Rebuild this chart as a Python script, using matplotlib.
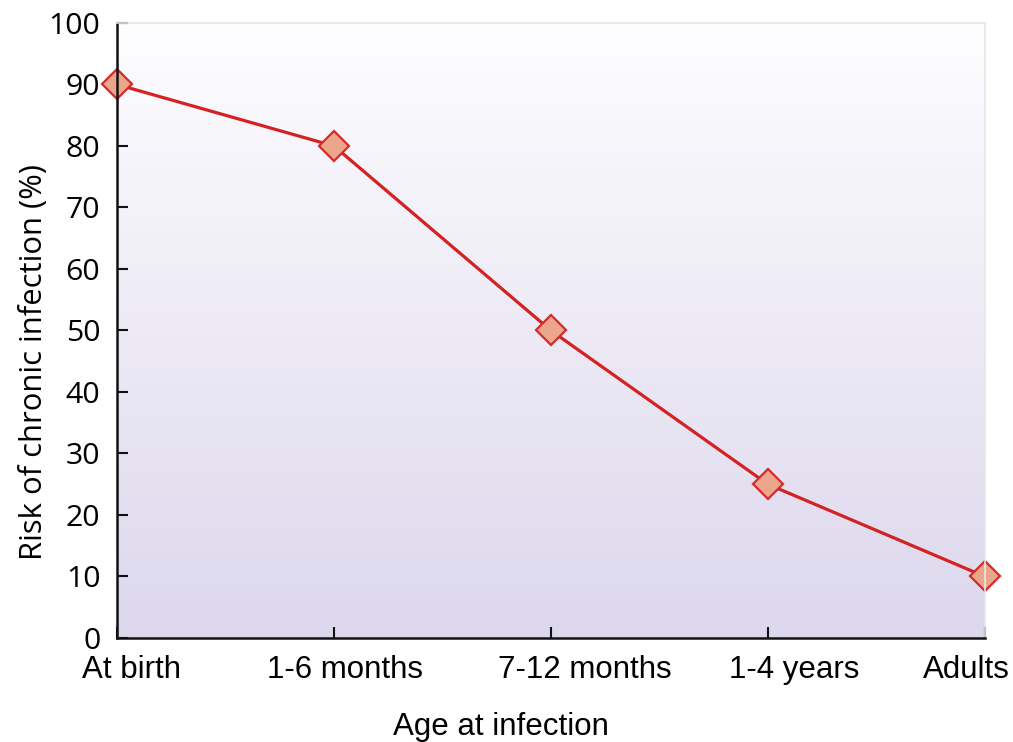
import numpy as np
import matplotlib
matplotlib.use("Agg")
import matplotlib.pyplot as plt
from matplotlib.colors import LinearSegmentedColormap
from matplotlib.transforms import ScaledTranslation

# Risk of chronic infection by age at infection
age_groups = ["At birth", "1-6 months", "7-12 months", "1-4 years", "Adults"]
risk_pct = [90, 80, 50, 25, 10]
y_ticks = [0, 10, 20, 30, 40, 50, 60, 70, 80, 90, 100]

# horizontal nudges (pixels) applied to the category labels
label_shift_px = [14, 11, 34, 26, -18]

fig = plt.figure(figsize=(10.13, 7.42), dpi=100)
ax = fig.add_axes([0.1155, 0.1402, 0.8566, 0.8288])

x = np.arange(len(age_groups))
ax.set_xlim(0, len(age_groups) - 1)
ax.set_ylim(0, 100)

# vertical gradient fill for the plotting area
grad = LinearSegmentedColormap.from_list("bg", ["#dcd7ec", "#fefdff"])
ax.imshow(np.linspace(0, 1, 256).reshape(-1, 1), cmap=grad, aspect="auto",
          extent=[0, len(age_groups) - 1, 0, 100], origin="lower", zorder=0)

ax.plot(x, risk_pct, color="#d42222", lw=2.3, zorder=2,
        marker="D", ms=15, mfc="#eca68b", mec="#d42a2a", mew=1.6,
        clip_on=False)

for side in ("top", "right"):
    ax.spines[side].set_color("#e6e6e6")
    ax.spines[side].set_linewidth(1.2)
for side in ("left", "bottom"):
    ax.spines[side].set_color("#111111")
    ax.spines[side].set_linewidth(1.8)

ax.set_xticks(x)
ax.set_xticklabels(age_groups, fontfamily="Liberation Sans", fontsize=22.5)
ax.set_yticks(y_ticks)
ax.set_yticklabels([str(v) for v in y_ticks], fontfamily="Open Sans", fontsize=21.8)
ax.tick_params(axis="both", direction="in", length=8, width=1.5, color="#111111")
ax.tick_params(axis="x", pad=12)
ax.tick_params(axis="y", pad=12)

for lbl, dx in zip(ax.get_xticklabels(), label_shift_px):
    lbl.set_transform(lbl.get_transform()
                      + ScaledTranslation(dx / 100, 0, fig.dpi_scale_trans))

ax.set_xlabel("Age at infection", fontfamily="Liberation Sans", fontsize=22.5)
ax.xaxis.set_label_coords(501 / 1013, 1 - 712 / 742, transform=fig.transFigure)
ax.set_ylabel("Risk of chronic infection (%)", fontfamily="Open Sans",
              fontsize=22.3)
ax.yaxis.set_label_coords(49 / 1013, 1 - 362 / 742, transform=fig.transFigure)

fig.savefig("out.png", dpi=100, facecolor="white")
